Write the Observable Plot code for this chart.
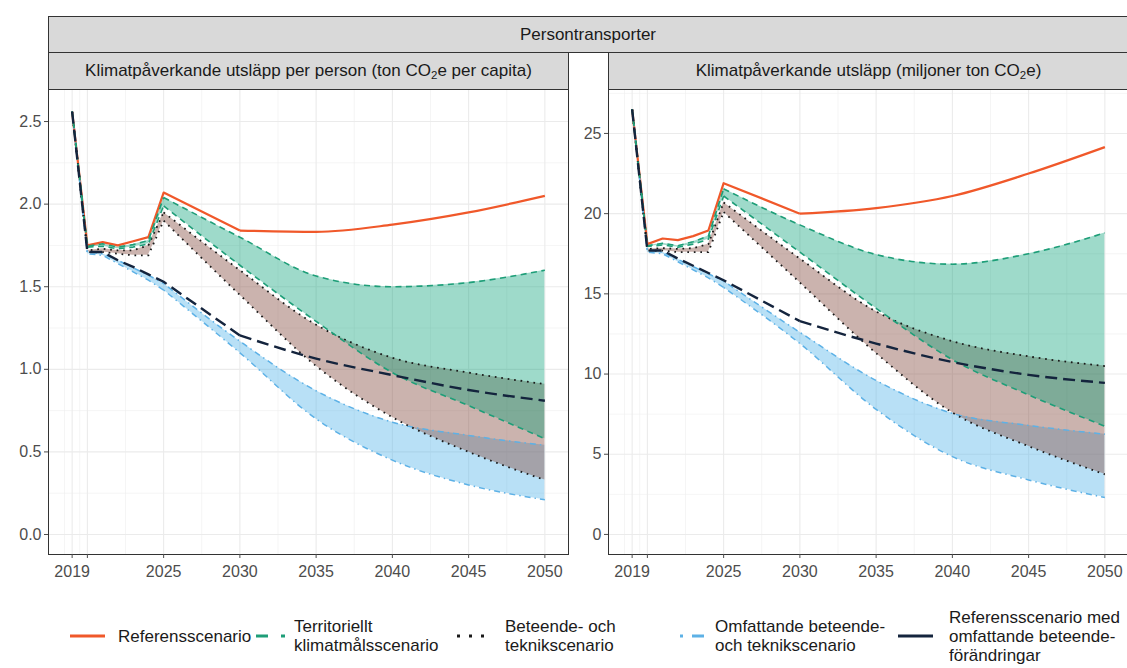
<!DOCTYPE html>
<html><head><meta charset="utf-8">
<script src="https://cdn.jsdelivr.net/npm/d3@7"></script>
<script src="https://cdn.jsdelivr.net/npm/@observablehq/plot@0.6"></script>
<style>
body{margin:0;background:#fff;font-family:"Liberation Sans",Arial,sans-serif;}
#root{position:relative;width:1127px;height:668px;overflow:hidden;background:#fff;}
.strip{position:absolute;box-sizing:border-box;background:#D9D9D9;border:1px solid #333;display:flex;align-items:center;justify-content:center;font-size:17px;color:#1A1A1A;white-space:nowrap;}
.strip span.sub{font-size:11.5px;position:relative;top:4px;}
.panel{position:absolute;}
</style></head><body><div id="root"></div><script>
// ---------- data ----------
const years = [2019, 2020, 2021, 2022, 2023, 2024, 2025, 2030, 2035, 2040, 2045, 2050];

// Left panel: per person (ton CO2e per capita)
const pcRef    = [2.56, 1.75, 1.77, 1.75, 1.775, 1.80, 2.07, 1.84, 1.832, 1.876, 1.95, 2.05];
const pcRefBeh = [2.56, 1.71, 1.71, 1.66, 1.62, 1.575, 1.53, 1.205, 1.065, 0.965, 0.875, 0.81];
const pcTerrHi = [2.56, 1.745, 1.76, 1.74, 1.755, 1.78, 2.04, 1.80, 1.565, 1.50, 1.525, 1.60];
const pcTerrLo = [2.56, 1.74, 1.745, 1.73, 1.74, 1.76, 1.99, 1.63, 1.29, 0.98, 0.78, 0.58];
const pcBtHi   = [2.56, 1.72, 1.73, 1.72, 1.72, 1.75, 1.95, 1.60, 1.27, 1.07, 0.98, 0.91];
const pcBtLo   = [2.56, 1.71, 1.71, 1.70, 1.69, 1.69, 1.90, 1.45, 1.02, 0.71, 0.50, 0.33];
const pcExtHi  = [2.56, 1.71, 1.70, 1.66, 1.615, 1.57, 1.52, 1.17, 0.87, 0.68, 0.60, 0.54];
const pcExtLo  = [2.56, 1.70, 1.69, 1.64, 1.59, 1.54, 1.48, 1.10, 0.70, 0.45, 0.30, 0.21];

// Right panel: total (miljoner ton CO2e)
const totRef    = [26.5, 18.1, 18.45, 18.35, 18.6, 18.95, 21.9, 20.0, 20.35, 21.1, 22.5, 24.15];
const totRefBeh = [26.5, 17.7, 17.7, 17.2, 16.75, 16.3, 15.85, 13.3, 11.9, 10.75, 9.95, 9.45];
const totTerrHi = [26.5, 18.0, 18.15, 18.0, 18.25, 18.6, 21.55, 19.3, 17.45, 16.85, 17.5, 18.8];
const totTerrLo = [26.5, 17.95, 18.05, 17.9, 18.1, 18.4, 21.1, 17.6, 14.1, 10.9, 8.7, 6.75];
const totBtHi   = [26.5, 17.8, 17.85, 17.8, 17.85, 18.1, 20.7, 17.2, 13.9, 12.05, 11.1, 10.5];
const totBtLo   = [26.5, 17.7, 17.7, 17.6, 17.6, 17.6, 20.1, 15.7, 11.3, 7.6, 5.5, 3.75];
const totExtHi  = [26.5, 17.7, 17.6, 17.15, 16.7, 16.25, 15.8, 12.6, 9.6, 7.55, 6.8, 6.25];
const totExtLo  = [26.5, 17.6, 17.5, 17.0, 16.5, 16.0, 15.4, 11.9, 7.8, 4.85, 3.4, 2.3];

// ticks
const xTicks = [2019, 2020, 2025, 2030, 2035, 2040, 2045, 2050];
const xMinor = [2018.5, 2019.5, 2022.5, 2027.5, 2032.5, 2037.5, 2042.5, 2047.5];
const pcTicks = [0, 0.5, 1, 1.5, 2, 2.5];
const pcMinor = [0.25, 0.75, 1.25, 1.75, 2.25];
const totTicks = [0, 5, 10, 15, 20, 25];
const totMinor = [2.5, 7.5, 12.5, 17.5, 22.5, 27.5];

// text
const outerTitle = "Persontransporter";
const leftTitle = 'Klimatpåverkande utsläpp per person (ton CO<span class="sub">2</span>e per capita)';
const rightTitle = 'Klimatpåverkande utsläpp (miljoner ton CO<span class="sub">2</span>e)';
const legendLabels = [
  ["Referensscenario"],
  ["Territoriellt", "klimatmålsscenario"],
  ["Beteende- och", "teknikscenario"],
  ["Omfattande beteende-", "och teknikscenario"],
  ["Referensscenario med", "omfattande beteende-", "förändringar"]
];

// ---------- styling ----------
const COL = {ref: "#F0582A", terr: "#1E9E78", bt: "#1A1A1A", ext: "#5DB1E6", refBeh: "#14243D"};
const FILL = {terr: "#009E73", bt: "#8C564B", ext: "#56B4E9"};

function rowsOf(s) {
  return years.map((year, i) => ({
    year, ref: s.ref[i], refBeh: s.refBeh[i], terrHi: s.terrHi[i], terrLo: s.terrLo[i],
    btHi: s.btHi[i], btLo: s.btLo[i], extHi: s.extHi[i], extLo: s.extLo[i]
  }));
}

function panelPlot(rows, {yDomain, yTicks, yMinor, yFmt, width, marginLeft}) {
  const seg = (a, b) => rows.filter(r => r.year >= a && r.year <= b);
  const early = seg(2019, 2025), late = seg(2025, 2050);
  const earlyK = seg(2019, 2030), lateK = seg(2030, 2050);
  const area = (lo, hi, fill, op) => [
    Plot.areaY(early, {x: "year", y1: lo, y2: hi, fill, fillOpacity: op, curve: "linear"}),
    Plot.areaY(late, {x: "year", y1: lo, y2: hi, fill, fillOpacity: op, curve: "monotone-x"})
  ];
  const line = (key, stroke, sw, dash, e, l) => [
    Plot.lineY(e, {x: "year", y: key, stroke, strokeWidth: sw, strokeDasharray: dash, strokeLinecap: "butt", curve: "linear"}),
    Plot.lineY(l, {x: "year", y: key, stroke, strokeWidth: sw, strokeDasharray: dash, strokeLinecap: "butt", curve: "monotone-x"})
  ];
  const dotted = "1.7,4.8", dashed = "6,4.5", dotdash = "1.5,4,6,4", longdash = "12,6";
  return Plot.plot({
    width, height: 500, marginLeft, marginRight: 2, marginTop: 0, marginBottom: 35,
    style: {fontSize: "16px", fontFamily: "'Liberation Sans', Arial, sans-serif", color: "#4D4D4D", background: "transparent", overflow: "visible"},
    x: {domain: [2017.45, 2051.55], label: null},
    y: {domain: yDomain, label: null},
    marks: [
      Plot.gridX(xMinor, {stroke: "#EEEEEE", strokeOpacity: 1, strokeWidth: 0.6}),
      Plot.gridY(yMinor, {stroke: "#EEEEEE", strokeOpacity: 1, strokeWidth: 0.6}),
      Plot.gridX(xTicks, {stroke: "#EBEBEB", strokeOpacity: 1, strokeWidth: 1.1}),
      Plot.gridY(yTicks, {stroke: "#EBEBEB", strokeOpacity: 1, strokeWidth: 1.1}),
      ...area("extLo", "extHi", FILL.ext, 0.42),
      ...area("btLo", "btHi", FILL.bt, 0.45),
      ...area("terrLo", "terrHi", FILL.terr, 0.38),
      ...line("ref", COL.ref, 2.2, null, earlyK, lateK),
      ...line("extHi", COL.ext, 1.5, dotdash, early, late),
      ...line("extLo", COL.ext, 1.5, dotdash, early, late),
      ...line("btHi", COL.bt, 1.8, dotted, early, late),
      ...line("btLo", COL.bt, 1.8, dotted, early, late),
      ...line("terrHi", COL.terr, 1.6, dashed, early, late),
      ...line("terrLo", COL.terr, 1.6, dashed, early, late),
      ...line("refBeh", COL.refBeh, 2.4, longdash, earlyK, lateK),
      Plot.frame({stroke: "#333", strokeWidth: 1}),
      Plot.axisX(xTicks, {tickFormat: d => d === 2020 ? "" : String(d), tickSize: 4, tickPadding: 7, label: null}),
      Plot.axisY(yTicks, {tickFormat: yFmt, tickSize: 4, tickPadding: 3, label: null})
    ]
  });
}

const root = document.getElementById("root");
function addStrip(left, top, width, height, html) {
  const d = document.createElement("div");
  d.className = "strip";
  Object.assign(d.style, {left: left + "px", top: top + "px", width: width + "px", height: height + "px"});
  d.innerHTML = html;
  root.appendChild(d);
}
addStrip(48, 16, 1080, 37, outerTitle);
addStrip(48, 52, 521, 38, leftTitle);
addStrip(608, 52, 521, 38, rightTitle);

const left = panelPlot(rowsOf({ref: pcRef, refBeh: pcRefBeh, terrHi: pcTerrHi, terrLo: pcTerrLo, btHi: pcBtHi, btLo: pcBtLo, extHi: pcExtHi, extLo: pcExtLo}),
  {yDomain: [-0.121, 2.694], yTicks: pcTicks, yMinor: pcMinor, yFmt: d3.format(".1f"), width: 570, marginLeft: 48});
const right = panelPlot(rowsOf({ref: totRef, refBeh: totRefBeh, terrHi: totTerrHi, terrLo: totTerrLo, btHi: totBtHi, btLo: totBtLo, extHi: totExtHi, extLo: totExtLo}),
  {yDomain: [-1.25, 27.74], yTicks: totTicks, yMinor: totMinor, yFmt: d3.format("d"), width: 560, marginLeft: 38});
for (const [el, x] of [[left, 0], [right, 570]]) {
  el.classList.add("panel");
  el.style.left = x + "px";
  el.style.top = "89px";
  root.appendChild(el);
}

// ---------- legend ----------
const legendKeys = [
  {x0: 70, x1: 105, tx: 118, stroke: COL.ref, dash: null},
  {x0: 256, x1: 285, tx: 294, stroke: COL.terr, dash: "12,13"},
  {x0: 457, x1: 492, tx: 505, stroke: COL.bt, dash: "3,9"},
  {x0: 680, x1: 708, tx: 715, stroke: COL.ext, dash: "3,9,12,9"},
  {x0: 898, x1: 933, tx: 949, stroke: COL.refBeh, dash: null}
];
const svg = d3.select(root).append("svg")
  .attr("width", 1127).attr("height", 68)
  .style("position", "absolute").style("left", "0px").style("top", "600px")
  .style("font-family", "'Liberation Sans', Arial, sans-serif");
const cy = 36, lh = 19;
legendKeys.forEach((k, i) => {
  svg.append("line").attr("x1", k.x0).attr("x2", k.x1).attr("y1", cy).attr("y2", cy)
    .attr("stroke", k.stroke).attr("stroke-width", 3.2).attr("stroke-dasharray", k.dash);
  const lines = legendLabels[i];
  const t = svg.append("text").attr("x", k.tx).attr("font-size", 17).attr("fill", "#1A1A1A");
  lines.forEach((s, j) => {
    t.append("tspan").attr("x", k.tx)
      .attr("y", cy + (j - (lines.length - 1) / 2) * lh)
      .attr("dy", "0.35em").text(s);
  });
});
</script></body></html>
